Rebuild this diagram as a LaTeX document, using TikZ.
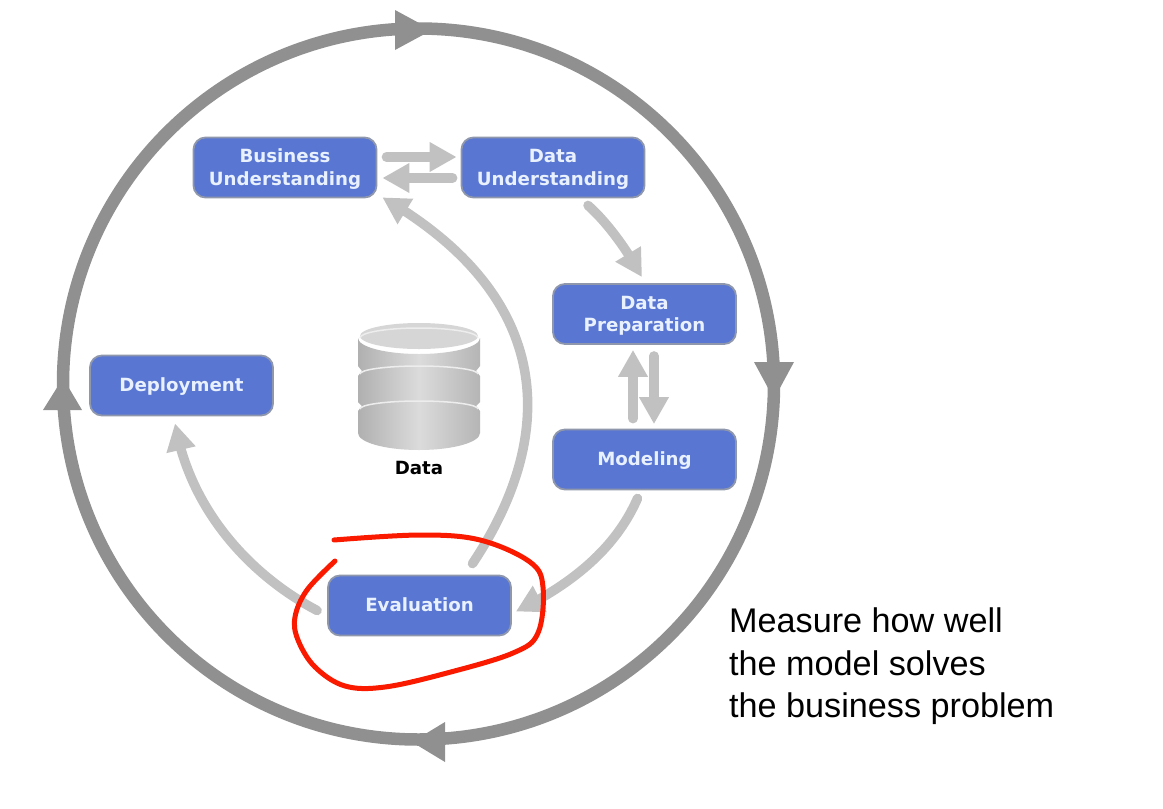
\documentclass[tikz,border=0pt]{standalone}
\usepackage{fontspec}
\setmainfont{Liberation Sans}
\newfontfamily\boxfont{DejaVu Sans}
\usetikzlibrary{arrows.meta,calc,bending}
\definecolor{boxblue}{HTML}{5876D2}
\definecolor{boxedge}{HTML}{8E97AC}
\definecolor{boxtext}{HTML}{E9F1FF}
\definecolor{flow}{HTML}{C1C1C1}
\definecolor{ring}{HTML}{909090}
\definecolor{redink}{HTML}{FA1A00}
\newcommand\stageline[1]{\strut\raisebox{-2pt}[0pt][0pt]{#1}}
\tikzset{
  x=1pt,y=-1pt,
  stage/.style={draw=boxedge,line width=1.8pt,fill=boxblue,rounded corners=12pt,minimum width=183pt,minimum height=60pt,inner sep=0pt,align=center,text=boxtext,font=\boxfont\bfseries\fontsize{18.2}{22.3}\selectfont},
  flowline/.style={draw=flow,line width=9.5pt,line cap=round,-{Triangle[width=28pt,length=27pt,flex=1]}},
  ringhead/.style={fill=ring,draw=none},
  disk/.style={left color=gray!62,right color=gray!58,middle color=gray!28,draw=none},
  diskedge/.style={draw=gray!14,line width=1.5pt},
}
\begin{document}
\begin{tikzpicture}
\useasboundingbox (0,0) rectangle (1163,809);
\fill[white] (0,0) rectangle (1163,809);
% outer ring
\coordinate (ringc) at (418.5,384);
\draw[ring,line width=12.5pt] (ringc) circle[radius=355.5];
\fill[ringhead] (395,10) -- (432,30) -- (395,50) -- cycle;
\fill[ringhead] (754,362) -- (794,362) -- (774,399) -- cycle;
\fill[ringhead] (445,722) -- (412,742) -- (445,762) -- cycle;
\fill[ringhead] (43,410) -- (63,378) -- (82,410) -- cycle;
% stages
\node[stage] (biz) at (285,167.5) {\stageline{Business}\\\stageline{Understanding}};
\node[stage] (dat) at (553,167.5) {\stageline{Data}\\\stageline{Understanding}};
\node[stage] (pre) at (644.5,314) {\stageline{Data}\\\stageline{Preparation}};
\node[stage] (mod) at (644.5,459.5) {\stageline{Modeling}};
\node[stage] (dep) at (181.5,385.5) {\stageline{Deployment}};
\node[stage] (eva) at (419.5,605.5) {\stageline{Evaluation}};
% connectors
\draw[flowline] ([shift={(9,-10.5)}]biz.east) -- ([shift={(-4,-10.5)}]dat.west);
\draw[flowline] ([shift={(-8,10.5)}]dat.west) -- ([shift={(5,10.5)}]biz.east);
\draw[flowline] ([shift={(35,7)}]dat.south) .. controls (610,225) and (630,255) .. ([shift={(-2.5,-6)}]pre.north);
\draw[flowline] ([shift={(-11.5,-10)}]mod.north) -- ([shift={(-11.5,5)}]pre.south);
\draw[flowline] ([shift={(9.5,11)}]pre.south) -- ([shift={(9.5,-4.5)}]mod.north);
\draw[flowline] ([shift={(-7,8)}]mod.south) .. controls (615,550) and (570,585) .. ([shift={(4,6)}]eva.east);
\draw[flowline] ([shift={(53,-11)}]eva.north) .. controls (555,440) and (560,300) .. ([shift={(5,-1)}]biz.south east);
\draw[flowline] ([shift={(-10,5)}]eva.west) .. controls (250,575) and (190,510) .. ([shift={(-6.5,7)}]dep.south);
% data store
\path[disk] (358,338) arc[x radius=61,y radius=16,start angle=180,end angle=0] -- (480,366) -- (476,371) -- (480,376) -- (480,402) -- (476,406) -- (480,411) -- (480,433) arc[x radius=61,y radius=17,start angle=0,end angle=180] -- (358,411) -- (362,406) -- (358,402) -- (358,376) -- (362,371) -- (358,366) -- cycle;
\fill[gray!32] (419,336) ellipse[x radius=59,y radius=13];
\draw[diskedge] (360,338) arc[x radius=59,y radius=10,start angle=180,end angle=360];
\draw[diskedge] (360,374) arc[x radius=59,y radius=8,start angle=180,end angle=360];
\draw[diskedge] (360,409) arc[x radius=59,y radius=8,start angle=180,end angle=360];
\node[font=\boxfont\bfseries\fontsize{18.2}{20}\selectfont,text=black] (dlabel) at (419,468) {Data};
% red annotation
\draw[redink,line width=5pt,line cap=round,line join=round] plot[smooth,tension=0.6] coordinates {(334,540) (420,535) (480,540) (530,562) (543,587) (538,633) (513,653) (447,673) (385,687) (345,686) (315,667) (298,640) (295,617) (307,590) (335,561)};
% caption
\node[anchor=north west,align=left,inner sep=0pt,font=\fontsize{34.2}{42.5}\selectfont,text=black] (cap) at (729,608) {Measure how well\\the model solves\\the business problem};
\end{tikzpicture}
\end{document}
